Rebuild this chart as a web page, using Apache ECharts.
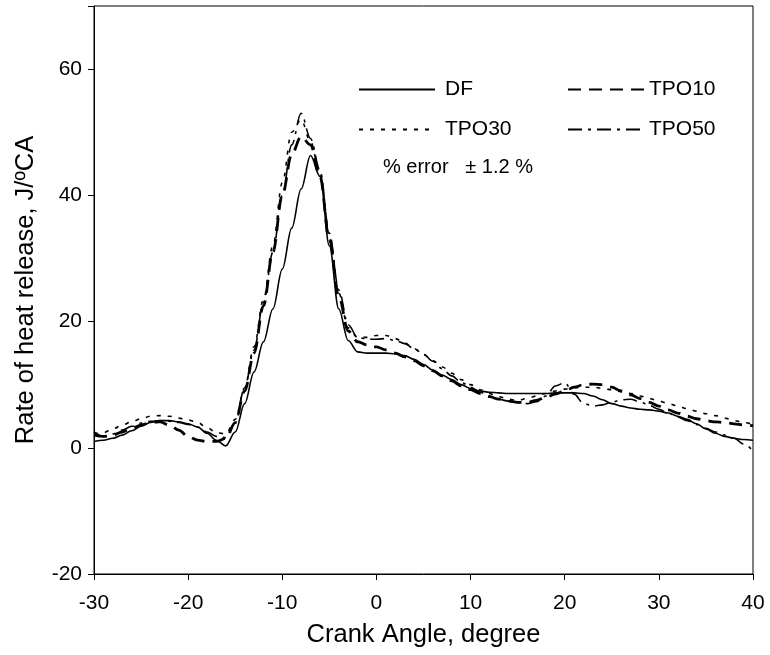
<!DOCTYPE html>
<html>
<head>
<meta charset="utf-8">
<script src="https://cdn.jsdelivr.net/npm/echarts@6/dist/echarts.min.js"></script>
<style>
html,body{margin:0;padding:0;background:#fff;}
#chart{width:770px;height:655px;}
</style>
</head>
<body>
<div id="chart"></div>
<script>
// Crank angle, degree (shared x values)
const angles = [-30,-29,-28,-27,-26,-25,-24,-23,-22,-21,-20,-19,-18,-17,-16,-15,-14,-13,-12,-11,-10,-9,-8,-7,-6,-5,-4,-3,-2,-1,0,1,2,3,4,5,6,7,8,9,10,11,12,13,14,15,16,17,18,19,20,21,22,23,24,25,26,27,28,29,30,31,32,33,34,35,36,37,38,39,40];

// Rate of heat release, J/ºCA
const dfValues = [1.0,1.2,1.5,2.0,2.7,3.4,4.0,4.3,4.3,4.1,3.8,3.3,2.3,1.2,0.3,2.5,7.0,12.0,16.8,22,28.3,34.8,41,46.3,43,32,22,17,15.2,15,15,15,14.9,14.6,14,13.2,12.3,11.5,10.8,10,9.4,9,8.8,8.7,8.6,8.6,8.6,8.6,8.6,8.7,8.7,8.7,8.6,8.2,7.6,7.0,6.6,6.3,6.1,6.0,5.8,5.5,5.0,4.5,3.8,3.0,2.3,1.8,1.5,1.3,1.2];
const tpo10Values = [2.0,1.8,2.0,2.5,3.1,3.6,4.0,4.1,3.6,2.8,1.8,1.2,1.0,1.0,1.5,4.0,9.0,15.0,22.5,31,40,46.5,49.3,48,43,33,24,18.5,16.8,16.3,16,15.5,15,14.4,13.8,13,12.2,11.4,10.6,9.8,9.2,8.6,8.1,7.7,7.4,7.2,7.2,7.5,8.0,8.5,9.0,9.6,10.0,10.1,10.0,9.6,9.0,8.4,7.8,7.2,6.6,6.0,5.5,5.0,4.6,4.3,4.1,4.0,3.8,3.6,3.5];
const tpo30Values = [2.2,2.4,3.0,3.6,4.1,4.6,5.0,5.1,5.0,4.7,4.4,4.0,3.2,2.4,2.2,4.5,9.5,16,23.5,32,42,50,52,48.5,43.5,33.5,24.5,19,17.5,17.5,17.8,17.8,17.3,16.6,15.7,14.8,13.8,12.8,11.8,10.8,10,9.2,8.6,8.1,7.7,7.5,7.8,8.2,8.6,9.0,9.3,9.5,9.6,9.6,9.4,9.2,8.9,8.6,8.2,7.8,7.4,7.0,6.6,6.2,5.8,5.4,5.1,4.7,4.3,4.0,3.7];
const tpo50Values = [2.5,1.8,2.2,2.8,3.4,3.9,4.2,4.3,4.2,4.0,3.7,3.3,2.5,1.8,1.6,4.0,9.5,15.5,23,31,40,48,53,49,44,34,25,19.5,17.5,17.2,17.2,17.3,17.0,16.5,15.7,14.8,13.7,12.5,11.4,10.4,9.6,8.8,8.2,7.7,7.4,7.2,7.0,7.3,8.2,9.8,10.3,8.5,7.0,6.6,6.8,7.2,7.6,7.7,7.3,6.7,6.1,5.5,4.9,4.3,3.7,3.1,2.5,2.0,1.5,0.6,-0.5];

const seriesNames = ['DF','TPO10','TPO30','TPO50'];
const xTicks = {min:-30, max:40, interval:10};
const yTicks = {min:-20, max:70, interval:20};

const pair = vals => angles.map((a,i)=>[a, vals[i]]);
const FONT = '"Liberation Sans", Arial, sans-serif';

const styles = {
  DF:    {width:1.6, type:'solid'},
  TPO10: {width:2.8, type:[13,8]},
  TPO30: {width:1.6, type:[4,7]},
  TPO50: {width:1.6, type:[14,6,3,6]}
};
const valuesByName = {DF:dfValues, TPO10:tpo10Values, TPO30:tpo30Values, TPO50:tpo50Values};

const chart = echarts.init(document.getElementById('chart'), null, {renderer:'canvas'});

function legendAt(name, left, top, padLeft){
  return {
    data:[name], left:left, top:top, padding:0, itemWidth:76, itemHeight:14, itemGap:0,
    itemStyle:{opacity:0},
    textStyle:{fontFamily:FONT, fontSize:21, color:'#000', padding:[0,0,0,padLeft]},
    selectedMode:false
  };
}

chart.setOption({
  animation:false,
  backgroundColor:'#fff',
  textStyle:{fontFamily:FONT},
  grid:{left:94, right:17, top:6, bottom:81, show:true, borderColor:'#000', borderWidth:1, containLabel:false},
  legend:[
    legendAt('DF', 358, 79, 5),
    legendAt('TPO10', 567, 79, 0),
    legendAt('TPO30', 358, 119, 5),
    legendAt('TPO50', 567, 119, 0)
  ],
  graphic:[{
    type:'text', left:383, top:157,
    style:{text:'% error   \u00b1 1.2 %', font:'20px "Liberation Sans", Arial, sans-serif', fill:'#000'}
  }],
  xAxis:{
    type:'value', min:xTicks.min, max:xTicks.max, interval:xTicks.interval,
    name:'Crank Angle, degree', nameLocation:'middle', nameGap:48,
    nameTextStyle:{fontFamily:FONT, fontSize:25.5, color:'#000'},
    axisLine:{onZero:false, lineStyle:{color:'#000', width:1}},
    axisTick:{show:true, inside:false, length:6, lineStyle:{color:'#000'}},
    axisLabel:{fontFamily:FONT, fontSize:21, color:'#000', margin:19},
    splitLine:{show:false}
  },
  yAxis:{
    type:'value', min:yTicks.min, max:yTicks.max, interval:yTicks.interval,
    name:'Rate of heat release, J/\u00baCA', nameLocation:'middle', nameGap:55,
    nameTextStyle:{fontFamily:FONT, fontSize:25.5, color:'#000'},
    axisLine:{onZero:false, lineStyle:{color:'#000', width:1}},
    axisTick:{show:true, inside:false, length:6, lineStyle:{color:'#000'}},
    axisLabel:{fontFamily:FONT, fontSize:21, color:'#000', margin:12,
      formatter:v => (v > 60 ? '' : String(v))},
    splitLine:{show:false}
  },
  series: seriesNames.map(n => ({
    name:n, type:'line', data:pair(valuesByName[n]),
    symbol:'none', showSymbol:false, smooth:0.35, smoothMonotone:'x',
    lineStyle:{color:'#000', width:styles[n].width, type:styles[n].type},
    itemStyle:{color:'#000'},
    z: n==='DF'?5:3
  }))
});
</script>
</body>
</html>
